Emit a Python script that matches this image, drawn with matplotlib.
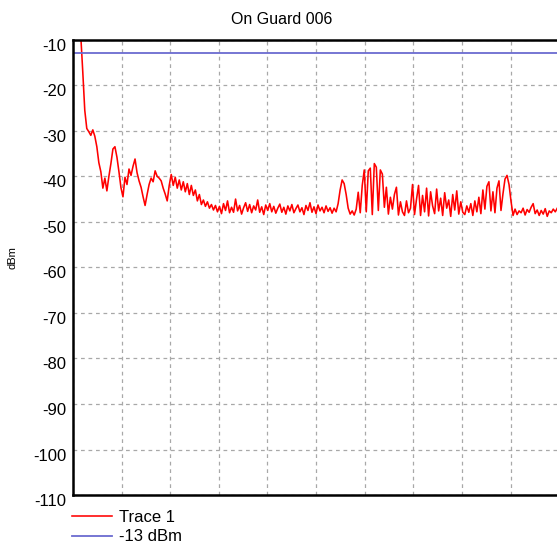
import numpy as np
import matplotlib
matplotlib.use("Agg")
import matplotlib.pyplot as plt
import matplotlib.transforms as mtransforms

# sweep readings for Trace 1 (dBm), evenly spaced across the span
trace1 = [
    -9.0, -17.0, -25.5, -29.5, -30.2, -31.0, -29.8, -31.2, -33.5, -37.0,
    -39.0, -42.6, -40.4, -43.2, -40.0, -37.2, -34.0, -33.5, -35.8, -39.0,
    -42.5, -44.5, -40.2, -41.8, -38.4, -39.8, -37.8, -36.2, -39.2, -41.0,
    -42.4, -44.5, -46.4, -44.0, -41.8, -40.4, -41.2, -38.8, -40.0, -40.4,
    -41.0, -42.6, -43.9, -45.4, -42.0, -39.6, -42.0, -40.2, -42.6, -40.8,
    -43.0, -41.2, -43.4, -41.6, -44.0, -42.0, -44.2, -43.0, -45.4, -44.0,
    -46.2, -45.2, -46.6, -45.6, -47.0, -46.2, -47.4, -46.4,
    -47.8, -46.6, -48.2, -46.0, -47.5, -45.4, -48.0, -46.8, -47.9, -45.0,
    -47.6, -46.4, -48.3, -46.9, -45.8, -47.7, -46.2, -48.0, -46.5, -47.4,
    -45.2, -47.9, -46.7, -48.4, -46.3, -47.5, -46.0, -47.8, -46.6, -48.1,
    -47.0, -46.1, -47.9, -46.8, -48.3, -46.5, -47.6, -46.2, -48.0, -47.1,
    -46.3, -47.8, -46.9, -48.4, -46.4, -47.5, -45.8, -47.9, -46.7, -48.2,
    -46.3, -47.6, -46.8, -48.0, -46.5, -47.7, -46.9, -48.1, -47.0, -47.8,
    -46.0, -43.0, -40.8, -41.6, -44.0, -47.0, -48.3, -47.6, -48.5, -47.2,
    -43.5, -48.0, -42.0, -38.6, -47.8, -38.8, -38.2, -48.4, -37.2, -38.0,
    -47.5, -38.6, -39.5, -46.8, -42.4, -48.3, -44.6, -47.2, -44.0, -42.4,
    -48.5, -45.6, -47.8, -48.6, -45.4, -48.0, -47.0, -41.8, -48.4, -45.0,
    -42.0,
    -48.6, -44.2, -47.8, -42.6, -48.7, -43.4, -46.5, -48.2, -42.8, -47.6,
    -44.8, -48.6, -43.6, -47.0, -45.2, -48.8, -44.0, -47.4, -43.2, -48.3,
    -45.6, -47.9,
    -48.4, -46.5, -47.9, -46.0, -48.6, -45.4, -47.8, -44.6, -48.2, -43.0,
    -47.2, -42.2, -41.2, -47.6, -43.4, -48.0, -42.6, -41.0, -47.5, -43.8,
    -40.6, -39.8, -41.8, -45.5,
    -48.6, -47.2, -48.4, -47.6, -48.0, -47.0, -48.5, -47.3, -47.9, -46.8,
    -46.0, -48.2, -47.4, -48.6, -47.5, -48.3, -47.1, -48.8, -47.6, -48.0,
    -47.2, -47.8, -47.0,
]
limit_dbm = -13
y_ticks = [-10, -20, -30, -40, -50, -60, -70, -80, -90, -100, -110]

plt.rcParams['font.family'] = ['Liberation Sans', 'DejaVu Sans']

fig = plt.figure(figsize=(5.57, 5.44), dpi=100)
ax = fig.add_axes([0.131, 0.090, 0.873, 0.837])

x = np.linspace(16, 996, len(trace1))
ax.plot(x, trace1, color='#ff0000', lw=1.15, label='Trace 1')
ax.axhline(limit_dbm, color='#6b6bd0', lw=1.3, label='-13 dBm')

ax.set_xlim(0, 1000)
ax.set_ylim(-110, -10)
ax.set_xticks(np.arange(0, 1001, 100))
ax.set_xticklabels([])
ax.set_yticks(y_ticks)
ax.set_yticklabels([str(t) for t in y_ticks], fontsize=12)
ax.tick_params(length=0, pad=4.5)
ax.grid(True, color='#a8a8a8', ls=(0, (3, 3)), lw=0.9)

# tick labels sit a little below their grid lines
shift = mtransforms.ScaledTranslation(0, -0.05, fig.dpi_scale_trans)
for lbl in ax.get_yticklabels():
    lbl.set_transform(lbl.get_transform() + shift)

for side in ['left', 'bottom', 'top']:
    ax.spines[side].set_linewidth(1.8)
    ax.spines[side].set_color('black')

fig.text(0.506, 0.964, 'On Guard 006', ha='center', va='center', fontsize=11.5)
fig.text(0.023, 0.527, 'dBm', rotation=90, ha='center', va='center', fontsize=8)

ax.legend(loc='upper left', bbox_to_anchor=(-0.002, -0.033), frameon=False,
          fontsize=12, handlelength=2.4, handletextpad=0.4, borderpad=0,
          borderaxespad=0, labelspacing=0.26)

fig.savefig('out.png', dpi=100)
